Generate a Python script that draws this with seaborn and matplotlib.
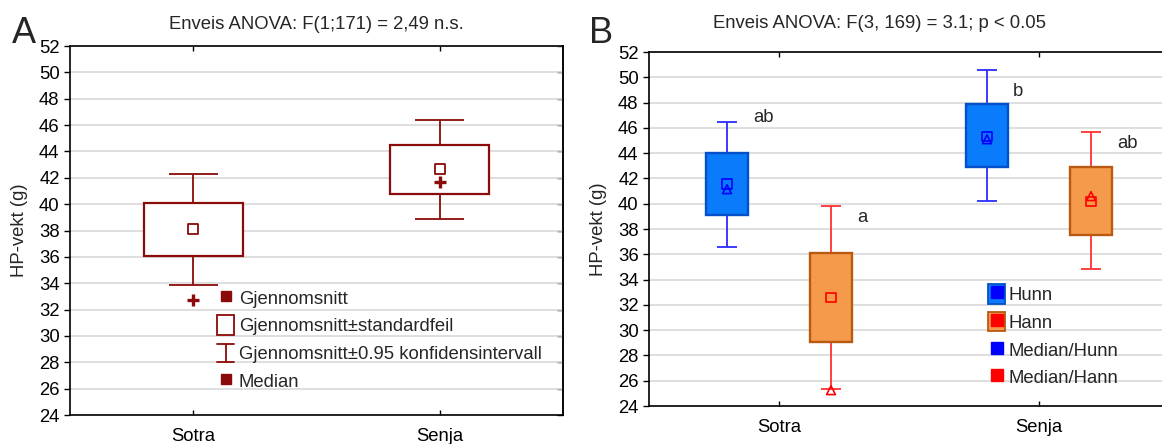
import numpy as np
import matplotlib
matplotlib.use("Agg")
import matplotlib.pyplot as plt
import seaborn as sns
from matplotlib.lines import Line2D
from matplotlib.patches import Patch
from matplotlib.legend_handler import HandlerBase, HandlerTuple

# ---- Panel A: HP weight by location --------------------------------------
locations = ["Sotra", "Senja"]
a_mean = [38.1, 42.65]
a_se_lo = [36.05, 40.8]
a_se_hi = [40.1, 44.5]
a_ci_lo = [33.9, 38.85]
a_ci_hi = [42.25, 46.4]
a_median = [32.7, 41.65]

# ---- Panel B: HP weight by location and sex ------------------------------
b_location = ["Sotra", "Sotra", "Senja", "Senja"]
b_sex = ["Hunn", "Hann", "Hunn", "Hann"]
b_mean = [41.55, 32.6, 45.3, 40.2]
b_se_lo = [39.1, 29.05, 42.9, 37.55]
b_se_hi = [44.0, 36.1, 47.9, 42.9]
b_ci_lo = [36.6, 25.35, 40.2, 34.8]
b_ci_hi = [46.5, 39.85, 50.55, 45.65]
b_median = [41.15, 25.25, 45.1, 40.6]
b_letters = ["ab", "a", "b", "ab"]

yticks = list(range(24, 53, 2))
title_a = "Enveis ANOVA: F(1;171) = 2,49 n.s."
title_b = "Enveis ANOVA: F(3, 169) = 3.1; p < 0.05"
ylabel = "HP-vekt (g)"
legend_a = ["Gjennomsnitt", "Gjennomsnitt\u00b1standardfeil",
            "Gjennomsnitt\u00b10.95 konfidensintervall", "Median"]
legend_b = ["Hunn", "Hann", "Median/Hunn", "Median/Hann"]

# ---- styling --------------------------------------------------------------
sns.set_style("white")
plt.rcParams["font.family"] = ["Liberation Sans", "DejaVu Sans"]
FS = 13.3
plt.rcParams["font.size"] = FS

DARKRED = "#8B0A0A"
sex_fill = {"Hunn": "#0A7BFA", "Hann": "#F5994B"}
sex_edge = {"Hunn": "#0450C8", "Hann": "#B85A12"}
sex_line = {"Hunn": "#2B2BFF", "Hann": "#FF3030"}
sex_marker = {"Hunn": "#0000FF", "Hann": "#FF0000"}
GRID = "#D9D9D9"

W, H = 1162, 444
fig = plt.figure(figsize=(W / 100, H / 100), dpi=100)
axA = fig.add_axes([70 / W, (H - 415) / H, 493 / W, 369 / H])
axB = fig.add_axes([649 / W, (H - 406) / H, 520 / W, 354 / H])


def style_axes(ax):
    ax.set_ylim(24, 52)
    ax.set_xlim(-0.5, 1.5)
    ax.set_yticks(yticks)
    ax.set_xticks([0, 1])
    ax.set_xticklabels(locations)
    ax.set_axisbelow(True)
    ax.yaxis.grid(True, color=GRID, lw=1.2)
    ax.xaxis.grid(False)
    for sp in ax.spines.values():
        sp.set_color("black")
        sp.set_linewidth(1.2)
    ax.tick_params(axis="y", direction="out", length=4.5, width=1, pad=3,
                   labelsize=FS, left=True, right=False, colors="black")
    ax.tick_params(axis="x", direction="in", length=3.5, width=1, pad=9.5,
                   labelsize=FS, top=True, bottom=True, colors="black")
    ax.set_ylabel(ylabel, fontsize=FS, labelpad=8)


class IBeamHandler(HandlerBase):
    """Legend glyph for a confidence-interval whisker."""

    def __init__(self, color, **kw):
        super().__init__(**kw)
        self.color = color

    def create_artists(self, legend, orig_handle, xdescent, ydescent,
                       width, height, fontsize, trans):
        x0, x1 = -xdescent, -xdescent + width
        y0, y1 = -ydescent + 0.05 * height, -ydescent + 0.95 * height
        xm = 0.5 * (x0 + x1)
        arts = [Line2D([xm, xm], [y0, y1]), Line2D([x0, x1], [y0, y0]),
                Line2D([x0, x1], [y1, y1])]
        for a in arts:
            a.set_color(self.color)
            a.set_linewidth(1.3)
            a.set_transform(trans)
        return arts


# ---- Panel A ----------------------------------------------------------------
style_axes(axA)
xa = np.arange(len(locations))
axA.vlines(xa, a_ci_lo, a_ci_hi, color=DARKRED, lw=1.3, zorder=2)
axA.hlines(a_ci_lo, xa - 0.1, xa + 0.1, color=DARKRED, lw=1.3, zorder=2)
axA.hlines(a_ci_hi, xa - 0.1, xa + 0.1, color=DARKRED, lw=1.3, zorder=2)
axA.bar(xa, np.subtract(a_se_hi, a_se_lo), bottom=a_se_lo, width=0.4,
        facecolor="white", edgecolor=DARKRED, lw=1.6, zorder=3)
sns.scatterplot(x=xa, y=a_mean, marker="s", s=55, color=DARKRED,
                facecolor="none", edgecolor=DARKRED, linewidth=1.3,
                ax=axA, zorder=4, legend=False)
sns.scatterplot(x=xa, y=a_median, marker="+", s=70, color=DARKRED,
                linewidth=2.4, ax=axA, zorder=4, legend=False)
axA.set_title(title_a, fontsize=FS, pad=12.5)

ibeam = Line2D([], [])
handles_a = [
    Line2D([], [], marker="s", ls="none", color=DARKRED, markersize=7.5),
    Patch(facecolor="white", edgecolor=DARKRED, lw=1.3),
    ibeam,
    Line2D([], [], marker="s", ls="none", color=DARKRED, markersize=7.5),
]
axA.legend(handles_a, legend_a, loc="upper left", bbox_to_anchor=(0.298, 0.345),
           frameon=False, fontsize=FS, handlelength=0.93, handleheight=1.25,
           handletextpad=0.25, labelspacing=0.42, borderpad=0, borderaxespad=0,
           handler_map={ibeam: IBeamHandler(DARKRED)})

# right-hand ticks point inwards
secA = axA.secondary_yaxis("right")
secA.set_yticks(yticks)
secA.tick_params(direction="in", length=4, width=1, labelright=False, colors="black")
secA.spines["right"].set_linewidth(1.2)

# ---- Panel B ----------------------------------------------------------------
style_axes(axB)
axB.spines["right"].set_visible(False)
offset = {"Hunn": -0.2, "Hann": 0.2}
xb = np.array([locations.index(l) + offset[s] for l, s in zip(b_location, b_sex)])
line_cols = [sex_line[s] for s in b_sex]
axB.vlines(xb, b_ci_lo, b_ci_hi, colors=line_cols, lw=1.3, zorder=2)
axB.hlines(b_ci_lo, xb - 0.039, xb + 0.039, colors=line_cols, lw=1.3, zorder=2)
axB.hlines(b_ci_hi, xb - 0.039, xb + 0.039, colors=line_cols, lw=1.3, zorder=2)
axB.bar(xb, np.subtract(b_se_hi, b_se_lo), bottom=b_se_lo, width=0.158,
        color=[sex_fill[s] for s in b_sex], edgecolor=[sex_edge[s] for s in b_sex],
        lw=1.7, zorder=3)
for sex in ["Hunn", "Hann"]:
    idx = [i for i, s in enumerate(b_sex) if s == sex]
    sns.scatterplot(x=xb[idx], y=[b_mean[i] for i in idx], marker="s", s=45,
                    color=sex_marker[sex], facecolor="none",
                    edgecolor=sex_marker[sex], linewidth=1.2, ax=axB, zorder=5,
                    legend=False)
    sns.scatterplot(x=xb[idx], y=[b_median[i] for i in idx], marker="^", s=40,
                    color=sex_marker[sex], facecolor="none",
                    edgecolor=sex_marker[sex], linewidth=1.2, ax=axB, zorder=5,
                    legend=False)

letter_y = [46.8, 38.9, 48.9, 44.8]
for x, ly, txt in zip(xb, letter_y, b_letters):
    axB.text(x + 0.1, ly, txt, fontsize=FS, ha="left", va="center")

axB.set_title(title_b, fontsize=FS, pad=17, x=0.443)

handles_b = [
    (Patch(facecolor=sex_fill["Hunn"], edgecolor=sex_edge["Hunn"], lw=1.3),
     Line2D([], [], marker="s", ls="none", color=sex_marker["Hunn"], markersize=8)),
    (Patch(facecolor=sex_fill["Hann"], edgecolor=sex_edge["Hann"], lw=1.3),
     Line2D([], [], marker="s", ls="none", color=sex_marker["Hann"], markersize=8)),
    Line2D([], [], marker="s", ls="none", color=sex_marker["Hunn"], markersize=8),
    Line2D([], [], marker="s", ls="none", color=sex_marker["Hann"], markersize=8),
]
axB.legend(handles_b, legend_b, loc="upper left", bbox_to_anchor=(0.652, 0.344),
           frameon=False, fontsize=FS, handlelength=0.93, handleheight=1.25,
           handletextpad=0.2, labelspacing=0.42, borderpad=0, borderaxespad=0,
           handler_map={tuple: HandlerTuple(ndivide=1, pad=0)})

# panel letters
fig.text(12 / W, 1 - 43 / H, "A", fontsize=26, va="baseline", ha="left")
fig.text(589 / W, 1 - 43 / H, "B", fontsize=26, va="baseline", ha="left")

fig.savefig("out.png", dpi=100)
